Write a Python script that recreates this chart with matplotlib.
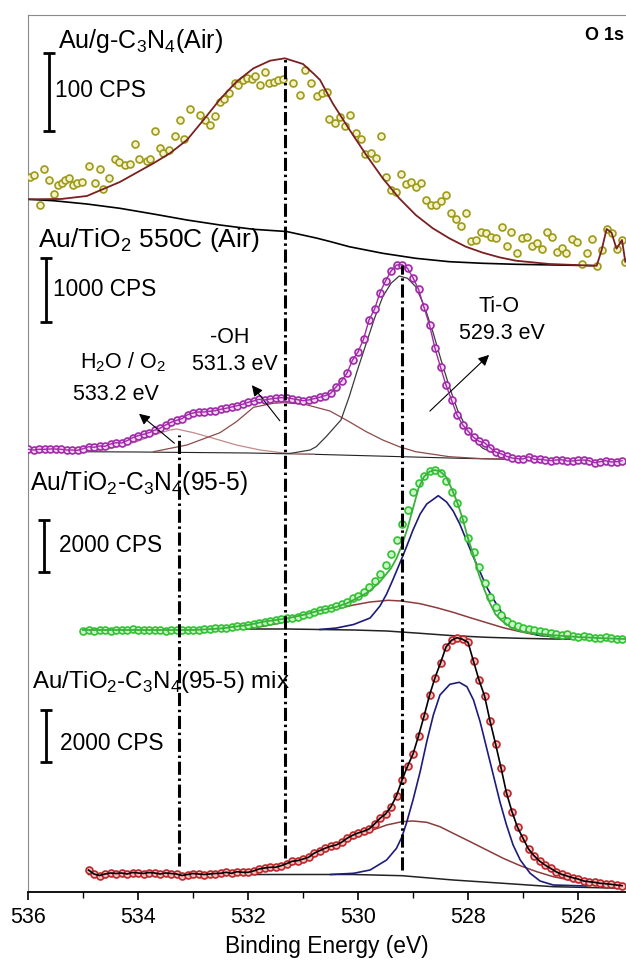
import numpy as np
import matplotlib
matplotlib.use("Agg")
import matplotlib.pyplot as plt

plt.rcParams['font.family'] = ['Liberation Sans', 'DejaVu Sans']
plt.rcParams['mathtext.fontset'] = 'custom'
plt.rcParams['mathtext.rm'] = 'Liberation Sans'

# intensities are in plot units (stacked, offset per spectrum)
# --- Au/g-C3N4 (Air), noisy data, single fitted peak
air_cn_ev = [535.96, 535.89, 535.79, 535.71, 535.61, 535.52, 535.45, 535.39, 535.33, 535.25,
             535.18, 535.11, 535.02, 534.89, 534.78, 534.70, 534.63, 534.52, 534.42, 534.34,
             534.24, 534.15, 534.05, 533.98, 533.84, 533.79, 533.69, 533.60, 533.54, 533.43,
             533.33, 533.24, 533.16, 533.05, 532.87, 532.78, 532.69, 532.60, 532.51, 532.44,
             532.34, 532.24, 532.18, 532.10, 532.02, 531.93, 531.87, 531.78, 531.69, 531.61,
             531.53, 531.45, 531.36, 531.18, 531.05, 530.96, 530.86, 530.75, 530.66, 530.57,
             530.52, 530.41, 530.33, 530.23, 530.14, 530.04, 529.95, 529.87, 529.76, 529.67,
             529.58, 529.49, 529.40, 529.31, 529.22, 529.13, 529.04, 528.95, 528.85, 528.76,
             528.67, 528.58, 528.49, 528.40, 528.31, 528.22, 528.13, 528.04, 527.95, 527.85,
             527.76, 527.67, 527.58, 527.49, 527.39, 527.30, 527.21, 527.11, 527.02, 526.93,
             526.84, 526.75, 526.66, 526.57, 526.48, 526.39, 526.30, 526.21, 526.11, 526.02,
             525.93, 525.84, 525.75, 525.66, 525.57, 525.48, 525.39, 525.30, 525.20, 525.14]
air_cn_int = [715.3, 717.0, 687.0, 722.7, 712.0, 698.0, 707.0, 708.7, 712.0, 713.7,
              707.0, 708.7, 710.3, 726.0, 709.3, 722.7, 702.7, 714.3, 732.7, 730.3,
              727.0, 728.0, 747.7, 732.7, 731.3, 732.7, 761.0, 743.7, 738.7, 742.0,
              756.0, 772.0, 752.7, 782.7, 777.0, 772.0, 767.0, 776.0, 790.3, 792.7,
              799.3, 808.7, 807.0, 812.0, 813.7, 812.7, 816.0, 807.0, 820.3, 809.3,
              810.3, 812.0, 812.7, 809.3, 797.0, 822.0, 809.3, 796.0, 798.7, 800.3,
              772.7, 769.3, 774.7, 766.0, 776.7, 758.7, 752.7, 738.0, 739.3, 733.7,
              756.0, 715.3, 702.0, 700.3, 718.0, 708.0, 710.3, 704.7, 709.3, 692.0,
              686.7, 687.3, 690.7, 696.7, 679.3, 673.3, 666.0, 678.7, 650.7, 652.0,
              660.3, 659.3, 655.3, 653.7, 664.7, 646.0, 660.3, 638.7, 653.7, 655.3,
              646.3, 648.7, 642.7, 660.0, 655.3, 640.0, 643.7, 638.7, 652.7, 650.3,
              628.0, 638.7, 652.7, 626.3, 642.0, 663.0, 659.3, 643.3, 652.0, 630.3]
air_cn_fit_ev = [536.0, 535.4, 534.93, 534.33, 533.72, 533.42, 533.11, 532.81, 532.51, 532.21,
                 531.90, 531.60, 531.33, 531.00, 530.80, 530.69, 530.46, 530.16, 529.85, 529.55,
                 529.25, 528.95, 528.64, 528.34, 528.04, 527.73, 527.43, 527.13, 526.52, 525.91,
                 525.66, 525.57, 525.48, 525.39, 525.30, 525.20, 525.14]
air_cn_fit = [692.7, 693.0, 696.0, 710.0, 728.7, 738.7, 752.0, 772.0, 792.7, 810.3,
              823.7, 831.3, 833.7, 828.0, 818.0, 812.0, 788.7, 762.7, 737.0, 713.7,
              693.7, 677.0, 663.7, 653.7, 645.3, 639.3, 634.7, 631.3, 628.0, 626.7,
              626.3, 642.0, 663.0, 659.3, 643.3, 652.0, 630.3]
air_cn_bg_ev = [536.0, 535.54, 534.93, 534.33, 533.72, 533.11, 532.51, 531.90, 531.30, 530.76,
                530.51, 530.16, 529.55, 528.95, 528.34, 527.73, 527.13, 526.40, 525.66]
air_cn_bg = [692.7, 691.3, 688.0, 683.7, 678.0, 672.0, 667.0, 662.7, 660.5, 654.0,
             650.5, 645.3, 638.7, 633.7, 630.3, 628.7, 627.7, 627.0, 626.3]

# --- Au/TiO2 550C (Air), 0.1 eV steps from 536.0 eV
tio2_start = 536.0
tio2_int = [442.7, 442.0, 442.7, 442.7, 443.0, 443.0, 442.7, 442.0, 442.0, 441.7,
            443.3, 445.3, 444.7, 446.0, 445.7, 448.0, 449.3, 449.0, 451.3, 454.3,
            456.3, 457.7, 459.3, 461.7, 463.7, 467.0, 469.7, 471.7, 473.3, 477.3,
            479.0, 480.0, 480.0, 480.7, 481.3, 482.7, 483.7, 485.0, 486.3, 487.7,
            489.7, 491.0, 492.7, 492.0, 493.0, 493.7, 494.3, 494.3, 493.3, 492.3,
            491.3, 492.0, 493.3, 494.7, 496.3, 498.5, 505.0, 511.0, 519.0, 532.0,
            540.0, 552.7, 572.0, 582.7, 599.3, 611.0, 621.0, 627.0, 627.3, 623.7,
            614.3, 602.7, 584.7, 567.0, 543.7, 524.7, 507.0, 492.0, 477.0, 467.3,
            461.0, 454.7, 450.7, 449.3, 444.3, 440.0, 438.3, 435.7, 434.0, 433.3,
            433.0, 435.3, 432.7, 432.7, 432.0, 431.3, 432.0, 432.3, 431.0, 431.0,
            431.7, 432.0, 431.3, 429.3, 430.3, 431.3, 430.0, 430.3, 431.3]
tio2_tio_ev = [531.5, 531.24, 530.87, 530.76, 530.58, 530.31, 530.16, 530.01, 529.85, 529.70,
               529.55, 529.40, 529.25, 529.10, 528.95, 528.79, 528.64, 528.49, 528.34, 528.19,
               528.04, 527.89, 527.73, 527.43, 527.13, 526.50, 525.13]
tio2_tio = [438.5, 438.5, 442.0, 445.3, 455.3, 472.0, 495.3, 522.0, 548.7, 573.7,
            595.3, 608.7, 616.0, 613.7, 605.3, 585.3, 560.3, 532.0, 505.3, 482.0,
            465.3, 452.0, 443.7, 437.0, 433.7, 432.0, 431.0]
tio2_oh_ev = [533.72, 533.11, 532.51, 532.21, 531.90, 531.54, 531.36, 530.99, 530.51, 530.16,
              529.85, 529.55, 529.25, 528.95, 528.34, 527.73, 527.00]
tio2_oh = [440.3, 447.0, 459.3, 470.3, 484.7, 488.7, 489.3, 488.0, 481.0, 470.3,
           460.3, 452.0, 445.3, 440.3, 435.3, 433.3, 432.5]
tio2_h2o_ev = [535.3, 534.63, 534.02, 533.72, 533.42, 533.30, 532.99, 532.63, 532.21, 531.78,
               531.30, 530.80]
tio2_h2o = [440.5, 442.0, 450.3, 457.0, 462.0, 463.0, 459.3, 453.7, 447.0, 442.0,
            438.7, 438.0]
tio2_bg_ev = [536.0, 534.0, 532.0, 531.0, 530.0, 529.0, 528.0, 527.0, 525.13]
tio2_bg = [440.5, 440.0, 439.0, 438.0, 436.5, 435.0, 433.5, 432.5, 431.0]

# --- Au/TiO2-C3N4 (95-5), 0.1 eV steps from 535.0 eV
cn95_start = 535.0
cn95_int = [261.0, 262.0, 261.5, 262.0, 262.5, 261.5, 262.0, 262.5, 262.0, 263.0,
            262.0, 262.0, 262.5, 262.0, 262.5, 261.5, 262.0, 262.5, 262.0, 262.5,
            262.0, 262.5, 263.0, 263.5, 264.0, 264.0, 264.5, 265.0, 266.0, 266.5,
            267.0, 268.0, 269.3, 270.0, 270.7, 271.7, 272.7, 273.7, 274.3, 275.0,
            276.7, 278.3, 280.3, 281.7, 282.7, 284.0, 285.7, 287.7, 290.3, 293.7,
            296.0, 299.7, 305.0, 311.0, 318.0, 327.0, 337.7, 352.0, 368.0, 382.0,
            399.5, 408.7, 416.0, 421.0, 421.7, 418.7, 411.0, 400.3, 388.7, 373.0,
            354.3, 340.3, 325.3, 308.7, 295.3, 285.3, 277.0, 271.3, 267.7, 265.7,
            264.3, 263.0, 262.0, 261.0, 260.0, 259.0, 258.3, 257.3, 257.7, 256.3,
            255.3, 256.3, 255.3, 254.3, 254.3, 255.0, 254.3, 253.3, 253.0]
cn95_fit_ev = [535.0, 533.0, 532.5, 532.0, 531.7, 531.3, 531.0, 530.7, 530.4, 530.2,
               530.0, 529.8, 529.6, 529.4, 529.3, 529.2, 529.1, 529.0, 528.9, 528.8,
               528.7, 528.6, 528.5, 528.4, 528.3, 528.2, 528.1, 528.0, 527.9, 527.8,
               527.7, 527.6, 527.5, 527.4, 527.3, 527.2, 527.0, 526.5, 526.0, 525.5, 525.13]
cn95_fit = [262.0, 262.0, 263.5, 267.0, 270.5, 273.5, 277.0, 281.5, 285.0, 288.7,
            294.3, 300.3, 310.3, 323.7, 333.7, 347.0, 363.7, 383.7, 403.7, 415.3,
            420.3, 422.0, 420.3, 415.3, 403.7, 390.3, 373.7, 353.7, 337.0, 317.0,
            302.0, 288.7, 277.7, 272.0, 267.7, 263.7, 260.3, 257.0, 255.0, 253.7, 253.0]
cn95_main_ev = [530.69, 530.39, 530.08, 529.78, 529.60, 529.48, 529.36, 529.20, 529.12, 529.00,
                528.87, 528.75, 528.54, 528.39, 528.27, 528.15, 528.03, 527.91, 527.78, 527.66,
                527.54, 527.36, 527.18, 526.93, 526.69, 526.30]
cn95_main = [262.5, 264.0, 267.5, 274.0, 286.0, 298.0, 313.0, 334.0, 345.0, 362.0,
             378.0, 388.0, 396.3, 390.0, 381.0, 368.0, 352.0, 336.0, 320.0, 305.0,
             293.0, 277.0, 267.0, 260.0, 256.5, 255.5]
cn95_broad_ev = [532.3, 532.0, 531.7, 531.3, 531.0, 530.69, 530.39, 530.08, 529.78, 529.45,
                 529.21, 528.87, 528.57, 528.27, 527.96, 527.66, 527.36, 527.05, 526.75, 526.45,
                 526.0]
cn95_broad = [263.0, 263.5, 266.0, 270.3, 273.7, 278.7, 283.0, 287.0, 290.0, 291.7,
              291.0, 288.3, 284.3, 279.7, 274.3, 269.3, 264.3, 260.3, 257.0, 255.3,
              253.5]
cn95_bg_ev = [535.0, 532.5, 531.3, 530.08, 529.48, 528.87, 528.27, 527.66, 527.05, 526.45, 525.13]
cn95_bg = [263.0, 263.0, 263.0, 262.0, 261.0, 258.7, 256.3, 254.7, 253.7, 253.0, 253.0]

# --- Au/TiO2-C3N4 (95-5) mix, 0.1 eV steps from 534.9 eV
mix_start = 534.9
mix_int = [22.0, 18.0, 16.5, 18.0, 19.0, 18.5, 19.0, 18.0, 19.5, 19.0,
           18.5, 19.5, 19.0, 18.0, 19.0, 18.5, 18.0, 16.5, 17.5, 18.5,
           18.0, 17.5, 18.0, 18.5, 18.7, 19.7, 18.7, 20.3, 19.7, 19.7,
           21.0, 23.0, 24.0, 24.7, 24.7, 26.3, 28.3, 30.7, 31.3, 33.0,
           34.7, 38.7, 41.3, 43.7, 45.7, 47.0, 49.7, 53.7, 56.7, 59.0,
           60.7, 63.0, 68.0, 73.7, 78.0, 85.3, 96.3, 112.0, 125.7, 138.0,
           156.0, 175.7, 196.7, 214.3, 229.0, 245.0, 251.7, 254.3, 252.7, 249.7,
           230.7, 212.0, 196.3, 171.0, 148.3, 124.3, 99.0, 80.3, 64.7, 53.7,
           43.0, 36.3, 31.0, 27.0, 23.7, 20.3, 17.7, 16.0, 14.3, 13.0,
           11.0, 10.3, 9.7, 8.7, 8.3, 7.7, 7.0, 6.3]
mix_main_ev = [530.50, 530.08, 529.78, 529.48, 529.30, 529.20, 529.12, 529.00, 528.87, 528.75,
               528.63, 528.51, 528.33, 528.16, 528.02, 527.90, 527.78, 527.66, 527.54, 527.42,
               527.30, 527.18, 527.05, 526.87, 526.69, 526.45, 525.84]
mix_main = [17.5, 18.7, 22.0, 32.0, 43.7, 55.3, 68.7, 92.0, 120.3, 150.3,
            177.0, 197.0, 207.7, 209.7, 205.3, 192.0, 170.3, 143.7, 117.0, 90.3,
            67.0, 47.0, 32.0, 18.7, 11.0, 7.0, 6.0]
mix_broad_ev = [533.0, 532.5, 532.0, 531.7, 531.3, 531.0, 530.69, 530.4, 530.08, 529.78,
                529.48, 529.2, 529.0, 528.75, 528.51, 528.27, 527.96, 527.66, 527.36, 527.05,
                526.75, 526.45, 526.15, 525.84, 525.5]
mix_broad = [17.8, 18.5, 20.0, 23.0, 28.0, 33.0, 40.5, 47.0, 54.0, 61.0,
             67.0, 70.3, 71.0, 69.7, 65.3, 58.7, 50.3, 42.0, 33.7, 26.3,
             20.3, 15.3, 12.0, 8.7, 6.5]
mix_bg_ev = [534.9, 532.0, 530.08, 529.2, 528.27, 527.36, 526.45, 525.13]
mix_bg = [17.5, 17.5, 17.5, 16.3, 12.0, 8.7, 5.3, 3.7]

# reference positions and labels
ref_lines_ev = [533.25, 531.32, 529.2]
ref_lines_top = [457, 834, 627]
ref_lines_bottom = [26, 34, 22]
ticks_major = [536, 534, 532, 530, 528, 526]
ticks_minor = [535, 533, 531, 529, 527]


def grid(start, values):
    return start - 0.1 * np.arange(len(values))


def scale_bar(ax, x, y0, y1):
    ax.plot([x, x], [y0, y1], color='black', lw=2.0, solid_capstyle='butt')
    ax.plot([x, x], [y0, y1], ls='none', marker='_', ms=9, mew=2.0, color='black')


fig = plt.figure(figsize=(6.26, 9.61), dpi=100)
ax = fig.add_axes([28 / 626, 69 / 961, 598 / 626, 877 / 961])

mk = dict(ls='none', marker='o', ms=5, mew=1.2, zorder=3)

# Au/g-C3N4
ax.plot(air_cn_bg_ev, air_cn_bg, color='black', lw=1.2)
ax.plot(air_cn_ev, air_cn_int, mec='#9d9a1a', mfc='#f4f2c8', **mk)
ax.plot(air_cn_fit_ev, air_cn_fit, color='#7a2020', lw=1.3, zorder=4)

# Au/TiO2 550C
tio2_ev = grid(tio2_start, tio2_int)
ax.plot(tio2_bg_ev, tio2_bg, color='#222222', lw=0.8)
ax.plot(tio2_h2o_ev, tio2_h2o, color='#c48a8a', lw=0.9)
ax.plot(tio2_oh_ev, tio2_oh, color='#8c4a4a', lw=0.9)
ax.plot(tio2_tio_ev, tio2_tio, color='#3a3a3a', lw=0.9)
ax.plot(tio2_ev, tio2_int, mec='#a02aa8', mfc='#f3d9f5', **mk)
ax.plot(tio2_ev, tio2_int, color='#a02aa8', lw=1.0, zorder=4)

# Au/TiO2-C3N4 (95-5)
cn95_ev = grid(cn95_start, cn95_int)
ax.plot(cn95_bg_ev, cn95_bg, color='#222222', lw=1.1)
ax.plot(cn95_broad_ev, cn95_broad, color='#8b3c3c', lw=1.1)
ax.plot(cn95_main_ev, cn95_main, color='#1c1c7a', lw=1.2)
ax.plot(cn95_ev, cn95_int, mec='#2fc42f', mfc='#c9f5c9', **mk)
ax.plot(cn95_fit_ev, cn95_fit, color='#3fae3f', lw=1.3, zorder=4)

# Au/TiO2-C3N4 (95-5) mix
mix_ev = grid(mix_start, mix_int)
ax.plot(mix_bg_ev, mix_bg, color='#222222', lw=1.1)
ax.plot(mix_broad_ev, mix_broad, color='#8b3c3c', lw=1.1)
ax.plot(mix_main_ev, mix_main, color='#1c1c7a', lw=1.2)
ax.plot(mix_ev, mix_int, mec='#c0262a', mfc='#f2c0c0', **mk)
ax.plot(mix_ev, mix_int, color='black', lw=1.2, zorder=4)

# dash-dot reference lines
for xv, top, bot in zip(ref_lines_ev, ref_lines_top, ref_lines_bottom):
    ax.plot([xv, xv], [bot, top], color='black', lw=2.2,
            dashes=(4.3, 1.2, 0.8, 1.2), zorder=5)

# scale bars and labels
scale_bar(ax, 535.61, 761, 839)
scale_bar(ax, 535.67, 570, 634)
scale_bar(ax, 535.71, 320, 372)
scale_bar(ax, 535.67, 130, 182)

ax.text(535.45, 844, r'Au/g-C$_\mathregular{3}$N$_\mathregular{4}$(Air)', fontsize=18, va='baseline')
ax.text(535.51, 795, '100 CPS', fontsize=16.4, va='baseline')
ax.text(525.16, 852, 'O 1s', fontsize=13, fontweight='bold', ha='right', va='baseline')
ax.text(535.82, 645, r'Au/TiO$_\mathregular{2}$ 550C (Air)', fontsize=19, va='baseline')
ax.text(535.55, 596, '1000 CPS', fontsize=16.3, va='baseline')
ax.text(535.96, 402, r'Au/TiO$_\mathregular{2}$-C$_\mathregular{3}$N$_\mathregular{4}$(95-5)',
        fontsize=17.7, va='baseline')
ax.text(535.44, 340, '2000 CPS', fontsize=16.3, va='baseline')
ax.text(535.93, 204, r'Au/TiO$_\mathregular{2}$-C$_\mathregular{3}$N$_\mathregular{4}$(95-5) mix',
        fontsize=17.3, va='baseline')
ax.text(535.42, 142, '2000 CPS', fontsize=16.4, va='baseline')

fa = 15.5
ax.text(535.05, 524, r'H$_\mathregular{2}$O / O$_\mathregular{2}$', fontsize=fa, va='baseline')
ax.text(535.18, 492, '533.2 eV', fontsize=fa, va='baseline')
ax.text(532.33, 549, '-OH', fontsize=fa, va='baseline', ha='center')
ax.text(533.02, 522, '531.3 eV', fontsize=fa, va='baseline')
ax.text(527.44, 580, 'Ti-O', fontsize=fa, va='baseline', ha='center')
ax.text(527.39, 553, '529.3 eV', fontsize=fa, va='baseline', ha='center')

arrow = dict(arrowstyle='-|>', color='black', lw=0.8, mutation_scale=16)
ax.annotate('', xy=(534.02, 480), xytext=(533.30, 447), arrowprops=arrow)
ax.annotate('', xy=(531.96, 509), xytext=(531.39, 469), arrowprops=arrow)
ax.annotate('', xy=(527.58, 539), xytext=(528.73, 479), arrowprops=arrow)

ax.set_xlim(536, 536 - 598 / 55)
ax.set_ylim(0, 877)
ax.set_xticks(ticks_major)
ax.set_xticks(ticks_minor, minor=True)
ax.set_yticks([])
ax.tick_params(axis='x', which='major', direction='out', length=6, width=1.2,
               labelsize=15.5, pad=5)
ax.tick_params(axis='x', which='minor', direction='out', length=4, width=1.0)
ax.spines['right'].set_visible(False)
ax.spines['top'].set_color('#8a8a8a')
ax.spines['left'].set_color('#8a8a8a')
ax.spines['bottom'].set_linewidth(1.3)
ax.set_xlabel('Binding Energy (eV)', fontsize=16.4, labelpad=5)

fig.savefig('out.png', dpi=100)
